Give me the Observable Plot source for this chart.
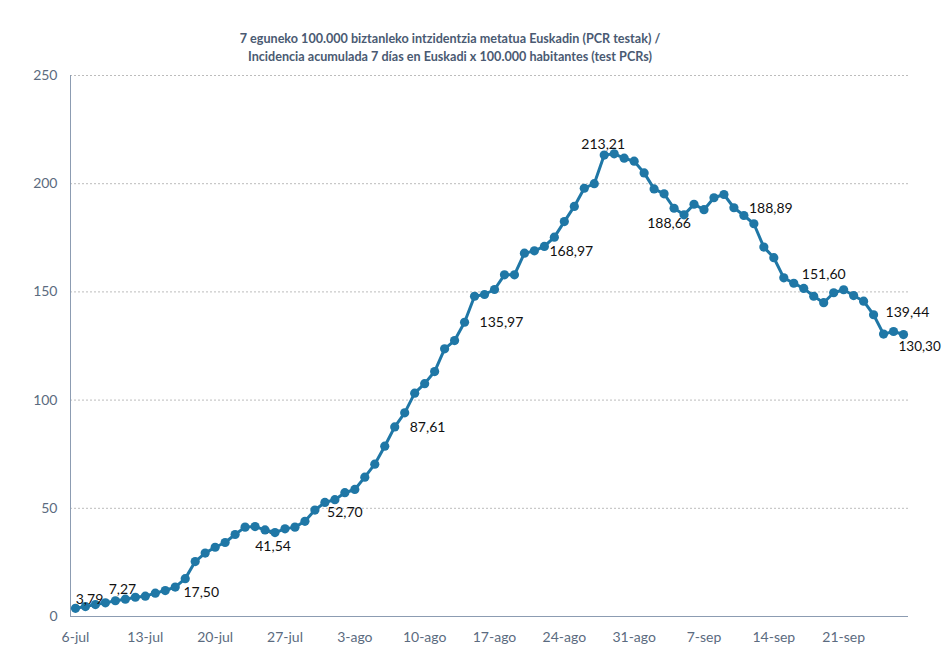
<!DOCTYPE html>
<html>
<head>
<meta charset="utf-8">
<script src="https://cdn.jsdelivr.net/npm/d3@7"></script>
<script src="https://cdn.jsdelivr.net/npm/@observablehq/plot@0.6"></script>
<style>
  html, body { margin: 0; padding: 0; background: #fff; }
  #title { width: 900px; height: 66px; box-sizing: border-box; padding-top: 30px;
    text-align: center; font-family: Lato, "Open Sans", sans-serif; font-weight: 700;
    font-size: 12.6px; line-height: 18px; color: #4a5a72; }
  #chart svg { display: block; }
</style>
</head>
<body>
<div id="title">7 eguneko 100.000 biztanleko intzidentzia metatua Euskadin (PCR testak) /<br>Incidencia acumulada 7 días en Euskadi x 100.000 habitantes (test PCRs)</div>
<div id="chart"></div>
<script>
// Daily values, one per day starting 6-jul
const values = [3.79, 4.6, 5.5, 6.3, 7.27, 8.0, 8.9, 9.4, 10.8, 12.0, 13.6, 17.50,
  25.4, 29.3, 32.0, 34.2, 37.9, 41.3, 41.54,
  40.0, 38.8, 40.5, 41.3, 44.0, 49.2, 52.70,
  54.0, 57.2, 58.7, 64.4, 70.4, 78.7, 87.61,
  94.1, 103.2, 107.6, 113.2, 123.7, 127.5, 135.97,
  148.0, 148.8, 151.1, 157.9, 157.9, 167.9, 168.97,
  171.0, 175.3, 182.5, 189.5, 197.9, 200.0, 213.21,
  213.8, 211.8, 210.4, 205.0, 197.6, 195.3, 188.66,
  185.6, 190.5, 188.0, 193.5, 195.0, 188.89,
  185.3, 181.5, 170.7, 165.8, 156.5, 154.0, 151.60,
  148.0, 145.0, 149.6, 151.0, 148.3, 145.7, 139.44,
  130.5, 131.7, 130.30];
const tickLabels = ["6-jul","13-jul","20-jul","27-jul","3-ago","10-ago","17-ago","24-ago","31-ago","7-sep","14-sep","21-sep"];
const yTicks = [0, 50, 100, 150, 200, 250];
const labeledDays = [0, 4, 11, 18, 25, 32, 39, 46, 53, 60, 66, 73, 80, 83];

const data = values.map((v, day) => ({day, v}));
const fmt = v => d3.format(".2f")(v).replace(".", ",");
const blue = "#1f77a6";
const tickDays = tickLabels.map((_, i) => i * 7);

// placement (style only) for each labelled point
const place = {
  0: {dx: 14, dy: -9, a: "middle"},
  4: {dx: 7, dy: -11, a: "middle"},
  11: {dx: 16, dy: 14, a: "middle"},
  18: {dx: 18, dy: 20, a: "middle"},
  25: {dx: 20, dy: 10, a: "middle"},
  32: {dx: 15, dy: 1, a: "start"},
  39: {dx: 15, dy: 0, a: "start"},
  46: {dx: 15, dy: 1, a: "start"},
  53: {dx: -1, dy: -11, a: "middle"},
  60: {dx: -5, dy: 15, a: "middle"},
  66: {dx: 15, dy: 1, a: "start"},
  73: {dx: 20, dy: -14, a: "middle"},
  80: {dx: 12, dy: -2, a: "start"},
  83: {dx: -5, dy: 12, a: "start"}
};
const labelMarks = labeledDays.map(day => {
  const p = place[day];
  return Plot.text([data[day]], {x: "day", y: "v", text: d => fmt(d.v),
    dx: p.dx, dy: p.dy, textAnchor: p.a, fill: "#111", fontSize: day === 83 ? 13.5 : 14});
});

const chart = Plot.plot({
  width: 942, height: 587,
  marginLeft: 70, marginRight: 34, marginTop: 9, marginBottom: 37,
  style: {fontFamily: "Lato, 'Open Sans', sans-serif", fontSize: "14px", color: "#5b6b80", background: "white"},
  x: {domain: [-0.5, 83.5], ticks: tickDays, tickFormat: d => tickLabels[Math.round(d / 7)], tickSize: 0, tickPadding: 16, label: null},
  y: {domain: [0, 250], ticks: yTicks, tickSize: 0, tickPadding: 13, label: null},
  marks: [
    Plot.ruleY(yTicks.filter(t => t > 0), {stroke: "#bcbcbc", strokeDasharray: "2,2", strokeWidth: 1}),
    Plot.ruleX([-0.5], {stroke: "#8c9cb2", strokeWidth: 1}),
    Plot.ruleY([0], {stroke: "#8c9cb2", strokeWidth: 1}),
    Plot.link([data[18]], {x1: "day", y1: "v", x2: d => d.day + 1.8, y2: d => d.v - 3.6, stroke: "#111", strokeWidth: 0.8}),
    Plot.line(data, {x: "day", y: "v", stroke: blue, strokeWidth: 3}),
    Plot.dot(data, {x: "day", y: "v", r: 4.6, fill: blue}),
    ...labelMarks
  ]
});
document.getElementById("chart").appendChild(chart);
</script>
</body>
</html>
